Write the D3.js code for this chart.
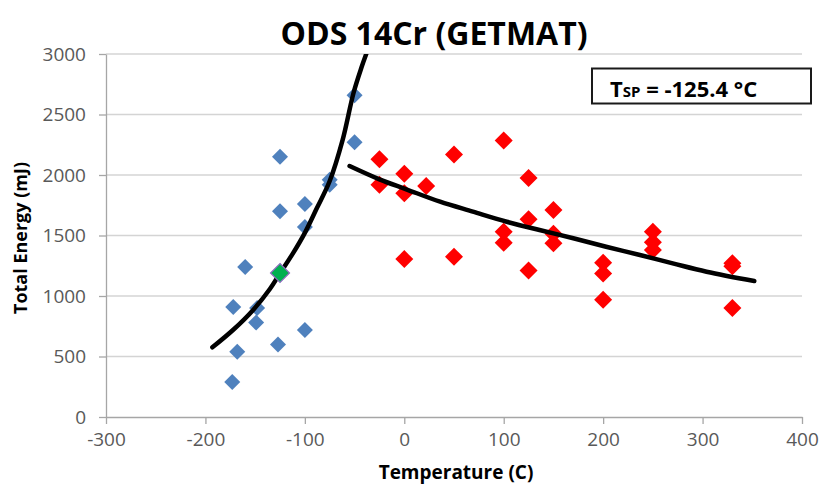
<!DOCTYPE html>
<html>
<head>
<meta charset="utf-8">
<script src="https://cdn.jsdelivr.net/npm/d3@7"></script>
<style>
  body { margin: 0; background: #fff; }
  #chart { width: 823px; height: 486px; }
  text { font-family: "Open Sans", "Liberation Sans", sans-serif; }
</style>
</head>
<body>
<div id="chart"></div>
<script>
// 軸の目盛
const xTicks = [-300, -200, -100, 0, 100, 200, 300, 400];
const yTicks = [0, 500, 1000, 1500, 2000, 2500, 3000];

// 青（下部棚）の測定点 [温度, エネルギー]
const lowerTemps  = [-50, -50, -125, -75, -75, -100, -125, -100, -160, -172, -148, -149, -100, -127, -168, -173];
const lowerEnergy = [2660, 2270, 2150, 1960, 1920, 1760, 1700, 1570, 1240, 910, 900, 780, 720, 600, 540, 290];

// 赤（上部棚）の測定点
const upperTemps  = [-25, -25, 0, 0, 22, 0, 50, 50, 100, 100, 100, 125, 125, 125, 150, 150, 150, 200, 200, 200, 250, 250, 250, 330, 330, 330];
const upperEnergy = [2130, 1920, 2010, 1850, 1910, 1305, 2170, 1325, 2285, 1530, 1440, 1975, 1635, 1210, 1710, 1515, 1435, 1275, 1185, 970, 1530, 1445, 1380, 1270, 1245, 900];

// 遷移温度の点
const tspPoint = [{ t: -125, e: 1190 }];

// フィット曲線（図から読み取った点）
const lowerFitT = [-193, -172, -152, -135, -125, -112, -100, -88, -75, -62, -51, -43, -38];
const lowerFitE = [576, 721, 885, 1060, 1188, 1352, 1522, 1725, 1950, 2290, 2680, 2890, 3006];
const upperFitT = [-55, -25, 2, 36, 69, 103, 136, 170, 203, 237, 270, 304, 352];
const upperFitE = [2074, 1964, 1882, 1779, 1697, 1614, 1545, 1477, 1407, 1339, 1270, 1201, 1124];

const width = 823, height = 486;
const margin = { left: 106, right: 21, top: 54, bottom: 69 };

const svg = d3.select('#chart')
    .append('svg')
    .attr('width', width)
    .attr('height', height);

const x = d3.scaleLinear().domain([-300, 400]).range([margin.left, width - margin.right]);
const y = d3.scaleLinear().domain([0, 3000]).range([height - margin.bottom, margin.top]);

// 横グリッド線
svg.append('g')
    .selectAll('line')
    .data(yTicks.filter(d => d > 0))
    .enter()
    .append('line')
    .attr('x1', x(-300))
    .attr('x2', x(400))
    .attr('y1', d => y(d))
    .attr('y2', d => y(d))
    .attr('stroke', '#d4d4d4')
    .attr('stroke-width', 1.4);

// 軸（数値はそのまま表示）
const fmt = d => String(d);
const xAxis = svg.append('g')
    .attr('transform', `translate(0,${y(0)})`)
    .call(d3.axisBottom(x).tickValues(xTicks).tickFormat(fmt).tickSize(7).tickSizeOuter(0).tickPadding(9));
const yAxis = svg.append('g')
    .attr('transform', `translate(${x(-300)},0)`)
    .call(d3.axisLeft(y).tickValues(yTicks).tickFormat(fmt).tickSize(7).tickSizeOuter(0).tickPadding(13));

[xAxis, yAxis].forEach(g => {
    g.select('.domain').attr('stroke', '#a6a6a6').attr('stroke-width', 1.3);
    g.selectAll('.tick line').attr('stroke', '#a6a6a6').attr('stroke-width', 1.3);
    g.selectAll('.tick text')
        .attr('fill', '#595959')
        .style('font-size', '19px')
        .style('font-family', '"Open Sans", sans-serif');
});

// クリップ
svg.append('clipPath').attr('id', 'plot')
    .append('rect')
    .attr('x', x(-300)).attr('y', y(3000))
    .attr('width', x(400) - x(-300)).attr('height', y(0) - y(3000));

// ひし形マーカー
const diamond = {
    draw(ctx, size) {
        const r = Math.sqrt(size / 2);
        ctx.moveTo(0, -r);
        ctx.lineTo(r, 0);
        ctx.lineTo(0, r);
        ctx.lineTo(-r, 0);
        ctx.closePath();
    }
};

const lowerPts = lowerTemps.map((t, i) => ({ t: t, e: lowerEnergy[i] }));
const upperPts = upperTemps.map((t, i) => ({ t: t, e: upperEnergy[i] }));

svg.append('g')
    .selectAll('path')
    .data(lowerPts)
    .enter()
    .append('path')
    .attr('transform', d => `translate(${x(d.t)},${y(d.e)})`)
    .attr('d', d3.symbol().type(diamond).size(2 * 8 * 8))
    .attr('fill', '#4f81bd');

svg.append('g')
    .selectAll('path')
    .data(upperPts)
    .enter()
    .append('path')
    .attr('transform', d => `translate(${x(d.t)},${y(d.e)})`)
    .attr('d', d3.symbol().type(diamond).size(2 * 9 * 9))
    .attr('fill', '#ff0000');

// フィット曲線
const line = d3.line()
    .x(d => x(d[0]))
    .y(d => y(d[1]))
    .curve(d3.curveCatmullRom);

svg.append('path')
    .datum(lowerFitT.map((t, i) => [t, lowerFitE[i]]))
    .attr('clip-path', 'url(#plot)')
    .attr('d', line)
    .attr('fill', 'none')
    .attr('stroke', '#000')
    .attr('stroke-width', 4.5)
    .attr('stroke-linecap', 'round');

svg.append('path')
    .datum(upperFitT.map((t, i) => [t, upperFitE[i]]))
    .attr('d', line)
    .attr('fill', 'none')
    .attr('stroke', '#000')
    .attr('stroke-width', 4.5)
    .attr('stroke-linecap', 'round');

// Tsp の点
svg.append('g')
    .selectAll('path')
    .data(tspPoint)
    .enter()
    .append('path')
    .attr('transform', d => `translate(${x(d.t)},${y(d.e)})`)
    .attr('d', d3.symbol().type(diamond).size(2 * 9.5 * 9.5))
    .attr('fill', '#00b050')
    .attr('stroke', '#8e6bbf')
    .attr('stroke-width', 1.2);

// タイトル
svg.append('text')
    .attr('x', 434)
    .attr('y', 45)
    .attr('text-anchor', 'middle')
    .attr('font-size', '32px')
    .attr('font-weight', 'bold')
    .attr('fill', '#000')
    .text('ODS 14Cr (GETMAT)');

svg.append('text')
    .attr('x', 456)
    .attr('y', 479)
    .attr('text-anchor', 'middle')
    .attr('font-size', '19px')
    .attr('font-weight', 'bold')
    .attr('fill', '#000')
    .text('Temperature (C)');

svg.append('text')
    .attr('transform', 'translate(27,238) rotate(-90)')
    .attr('text-anchor', 'middle')
    .attr('font-size', '18px')
    .attr('font-weight', 'bold')
    .attr('fill', '#000')
    .text('Total Energy (mJ)');

// Tsp の枠
svg.append('rect')
    .attr('x', 592)
    .attr('y', 68.5)
    .attr('width', 219)
    .attr('height', 35)
    .attr('fill', '#fff')
    .attr('stroke', '#1a1a1a')
    .attr('stroke-width', 2);

const tsp = svg.append('text')
    .attr('x', 610)
    .attr('y', 97)
    .attr('font-size', '22px')
    .attr('font-weight', 'bold')
    .attr('fill', '#000');
tsp.append('tspan').text('T');
tsp.append('tspan').attr('font-size', '15px').text('SP');
tsp.append('tspan').text(' = -125.4 °C');
</script>
</body>
</html>
